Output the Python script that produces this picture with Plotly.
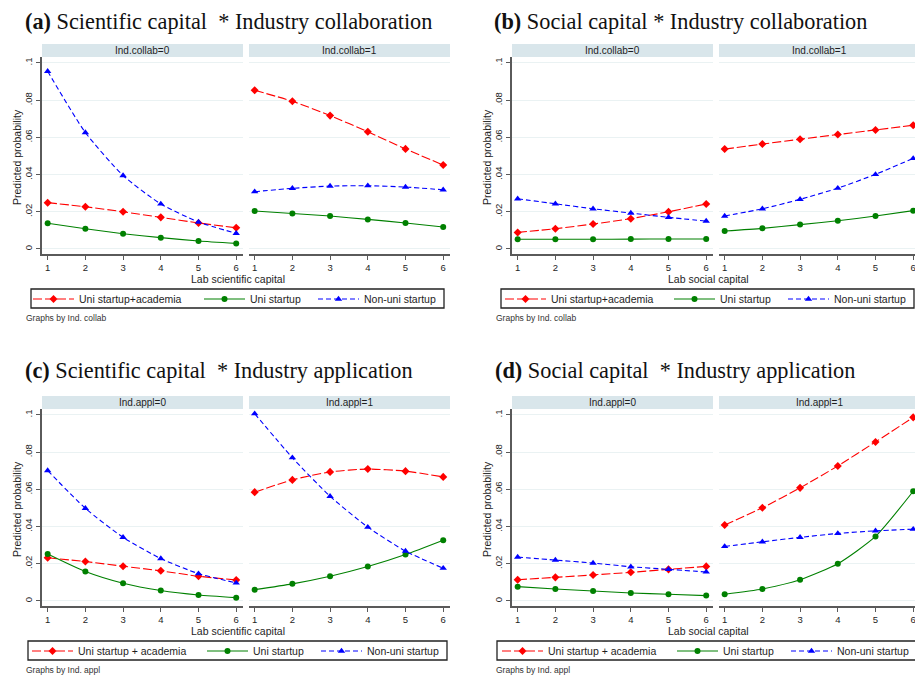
import plotly.graph_objects as go

# page body has an 8px margin; figure drawn in reference-pixel coordinates
PAGE_W, PAGE_H = 923, 678
OFF = 8
W, H = PAGE_W - OFF, PAGE_H - OFF

# ---------------- data ----------------
x_vals = [1, 2, 3, 4, 5, 6]
x_tickvals = [1, 2, 3, 4, 5, 6]
x_ticktext = ["1", "2", "3", "4", "5", "6"]
y_tickvals = [0, 0.02, 0.04, 0.06, 0.08, 0.1]
y_ticktext = ["0", ".02", ".04", ".06", ".08", ".1"]

names_ab = ["Uni startup+academia", "Uni startup", "Non-uni startup"]
names_cd = ["Uni startup + academia", "Uni startup", "Non-uni startup"]

# (a) Scientific capital * Industry collaboration
a0_acad = [0.0249, 0.0227, 0.0200, 0.0170, 0.0140, 0.0114]
a0_uni = [0.0138, 0.0109, 0.0082, 0.0061, 0.0043, 0.0030]
a0_non = [0.0955, 0.0626, 0.0395, 0.0242, 0.0145, 0.0084]
a1_acad = [0.0853, 0.0794, 0.0717, 0.0630, 0.0538, 0.0451]
a1_uni = [0.0204, 0.0191, 0.0177, 0.0159, 0.0140, 0.0118]
a1_non = [0.0308, 0.0326, 0.0338, 0.0340, 0.0333, 0.0318]

# (b) Social capital * Industry collaboration
b0_acad = [0.0089, 0.0109, 0.0134, 0.0163, 0.0200, 0.0242]
b0_uni = [0.0052, 0.0052, 0.0052, 0.0053, 0.0054, 0.0054]
b0_non = [0.0270, 0.0243, 0.0216, 0.0193, 0.0170, 0.0150]
b1_acad = [0.0537, 0.0564, 0.0590, 0.0615, 0.0640, 0.0665]
b1_uni = [0.0097, 0.0111, 0.0131, 0.0152, 0.0177, 0.0206]
b1_non = [0.0177, 0.0216, 0.0267, 0.0327, 0.0401, 0.0487]

# (c) Scientific capital * Industry application
c0_acad = [0.0232, 0.0212, 0.0187, 0.0162, 0.0133, 0.0113]
c0_uni = [0.0252, 0.0158, 0.0095, 0.0056, 0.0032, 0.0018]
c0_non = [0.0701, 0.0498, 0.0342, 0.0228, 0.0147, 0.0097]
c1_acad = [0.0585, 0.0651, 0.0694, 0.0709, 0.0698, 0.0667]
c1_uni = [0.0061, 0.0092, 0.0133, 0.0185, 0.0250, 0.0327]
c1_non = [0.1007, 0.0770, 0.0563, 0.0397, 0.0268, 0.0176]

# (d) Social capital * Industry application
d0_acad = [0.0114, 0.0127, 0.0140, 0.0154, 0.0170, 0.0186]
d0_uni = [0.0077, 0.0064, 0.0054, 0.0043, 0.0036, 0.0029]
d0_non = [0.0236, 0.0220, 0.0204, 0.0184, 0.0170, 0.0156]
d1_acad = [0.0408, 0.0501, 0.0608, 0.0726, 0.0855, 0.0987]
d1_uni = [0.0036, 0.0064, 0.0114, 0.0200, 0.0347, 0.0590]
d1_non = [0.0293, 0.0318, 0.0342, 0.0363, 0.0377, 0.0386]

titles = [
    ("(a)", "Scientific capital  * Industry collaboration"),
    ("(b)", "Social capital * Industry collaboration"),
    ("(c)", "Scientific capital  * Industry application"),
    ("(d)", "Social capital  * Industry application"),
]
strip_labels = [
    ("Ind.collab=0", "Ind.collab=1"),
    ("Ind.collab=0", "Ind.collab=1"),
    ("Ind.appl=0", "Ind.appl=1"),
    ("Ind.appl=0", "Ind.appl=1"),
]
x_titles = ["Lab scientific capital", "Lab social capital",
            "Lab scientific capital", "Lab social capital"]
notes = ["Graphs by Ind. collab", "Graphs by Ind. collab",
         "Graphs by Ind. appl", "Graphs by Ind. appl"]
panel_data = [
    ((a0_acad, a0_uni, a0_non), (a1_acad, a1_uni, a1_non)),
    ((b0_acad, b0_uni, b0_non), (b1_acad, b1_uni, b1_non)),
    ((c0_acad, c0_uni, c0_non), (c1_acad, c1_uni, c1_non)),
    ((d0_acad, d0_uni, d0_non), (d1_acad, d1_uni, d1_non)),
]
panel_names = [names_ab, names_ab, names_cd, names_cd]

# ---------------- styling / layout ----------------
SANS = "Liberation Sans, Arial, sans-serif"
SERIF = "Liberation Serif, Times New Roman, serif"
STRIP = "#d9e6eb"
GRID = "#eaf2f3"
AXIS = "#5a5a5a"
TXT = "#1e1e1e"

styles = [
    dict(color="#ff0000", dash="9px,3px", symbol="diamond", size=6.2),
    dict(color="#008000", dash="solid", symbol="circle", size=6),
    dict(color="#0000ff", dash="5px,3px", symbol="triangle-up", size=6.5),
]

offsets = [(0, 0), (470, 0), (0, 352), (470, 352)]
legend_boxes = [(31, 444), (501, 914), (28, 447), (497, 917)]
legend_samples = [(33, 204, 318), (505, 674, 788), (32, 207, 321), (502, 677, 791)]
title_x = [24, 493, 24, 494]
title_top = [8, 8, 357, 357]


def px(x):
    return (x - OFF) / W


def py(y):
    return 1 - (y - OFF) / H


fig = go.Figure()
layout = dict(
    width=W, height=H, autosize=False,
    margin=dict(l=0, r=0, t=0, b=0),
    paper_bgcolor="white", plot_bgcolor="white",
    showlegend=True,
)
shapes = []
annotations = []

yrange = [-0.0027, 0.1032]
xrange = [0.85, 6.18]

for p in range(4):
    ox, oy = offsets[p]
    for s in range(2):
        i = p * 2 + s + 1
        left = 42 + ox + s * 207
        right = left + 201
        top = 57 + oy
        bottom = 254 + oy
        xa = "xaxis" if i == 1 else f"xaxis{i}"
        ya = "yaxis" if i == 1 else f"yaxis{i}"
        xref = "x" if i == 1 else f"x{i}"
        yref = "y" if i == 1 else f"y{i}"
        layout[xa] = dict(
            domain=[px(left), px(right)], anchor=yref, range=xrange,
            tickvals=x_tickvals, ticktext=x_ticktext,
            showgrid=False, zeroline=False,
            showline=True, linecolor=AXIS, linewidth=2,
            ticks="outside", ticklen=4, tickcolor=AXIS, tickwidth=1,
            tickfont=dict(family=SANS, size=9.5, color=TXT),
            fixedrange=True,
        )
        layout[ya] = dict(
            domain=[py(bottom), py(top)], anchor=xref, range=yrange,
            tickvals=y_tickvals, ticktext=y_ticktext,
            showgrid=True, gridcolor=GRID, gridwidth=1.2, zeroline=False,
            showline=(s == 0), linecolor=AXIS, linewidth=2,
            ticks="outside" if s == 0 else "", ticklen=4, tickcolor=AXIS,
            showticklabels=(s == 0), tickangle=-90,
            tickfont=dict(family=SANS, size=9.5, color=TXT),
            fixedrange=True,
        )
        # strip header
        shapes.append(dict(type="rect", xref="paper", yref="paper",
                           x0=px(left), x1=px(right), y0=py(top), y1=py(top - 13),
                           fillcolor=STRIP, line=dict(width=0), layer="below"))
        annotations.append(dict(xref="paper", yref="paper",
                                x=px((left + right) / 2), y=py(top - 6.5),
                                text=strip_labels[p][s], showarrow=False,
                                font=dict(family=SANS, size=10, color=TXT),
                                xanchor="center", yanchor="middle"))
        for k in range(3):
            st = styles[k]
            n = p * 3 + k + 1
            legend_key = "legend" if n == 1 else f"legend{n}"
            fig.add_trace(go.Scatter(
                x=x_vals, y=panel_data[p][s][k], xaxis=xref, yaxis=yref,
                mode="lines+markers", name=panel_names[p][k],
                line=dict(color=st["color"], dash=st["dash"], width=1.1,
                          shape="spline", smoothing=0.6),
                marker=dict(symbol=st["symbol"], size=st["size"], color=st["color"]),
                showlegend=(s == 0), legend=legend_key,
                hoverinfo="skip",
            ))
    # legend entries (one legend per entry for Stata-like spacing)
    for k in range(3):
        n = p * 3 + k + 1
        legend_key = "legend" if n == 1 else f"legend{n}"
        layout[legend_key] = dict(
            x=px(legend_samples[p][k] - 5), y=py(299 + oy),
            xanchor="left", yanchor="middle",
            orientation="h", bgcolor="rgba(0,0,0,0)", borderwidth=0,
            font=dict(family=SANS, size=10.5, color=TXT),
            itemwidth=41, traceorder="normal",
            itemclick=False, itemdoubleclick=False,
        )
    # title
    annotations.append(dict(xref="paper", yref="paper",
                            x=px(title_x[p]), y=py(title_top[p]),
                            text=f"<b>{titles[p][0]}</b> {titles[p][1]}",
                            showarrow=False, xanchor="left", yanchor="top",
                            borderpad=0,
                            font=dict(family=SERIF, size=22.3, color="#111")))
    # y title
    annotations.append(dict(xref="paper", yref="paper",
                            x=px(17 + ox), y=py(157 + oy),
                            text="Predicted probability", textangle=-90,
                            showarrow=False, xanchor="center", yanchor="middle",
                            font=dict(family=SANS, size=10.5, color=TXT)))
    # x title
    annotations.append(dict(xref="paper", yref="paper",
                            x=px(238 + ox), y=py(279 + oy),
                            text=x_titles[p], showarrow=False,
                            xanchor="center", yanchor="middle",
                            font=dict(family=SANS, size=10.5, color=TXT)))
    # note
    annotations.append(dict(xref="paper", yref="paper",
                            x=px(24 + ox), y=py(318 + oy),
                            text=notes[p], showarrow=False,
                            xanchor="left", yanchor="middle",
                            font=dict(family=SANS, size=8.5, color="#333")))
    # legend box
    lx0, lx1 = legend_boxes[p]
    shapes.append(dict(type="rect", xref="paper", yref="paper",
                       x0=px(lx0), x1=px(lx1), y0=py(289 + oy), y1=py(308 + oy),
                       fillcolor="rgba(0,0,0,0)", line=dict(color="#222", width=1.3)))

layout["shapes"] = shapes
layout["annotations"] = annotations
fig.update_layout(**layout)

fig.write_html("out.html")
